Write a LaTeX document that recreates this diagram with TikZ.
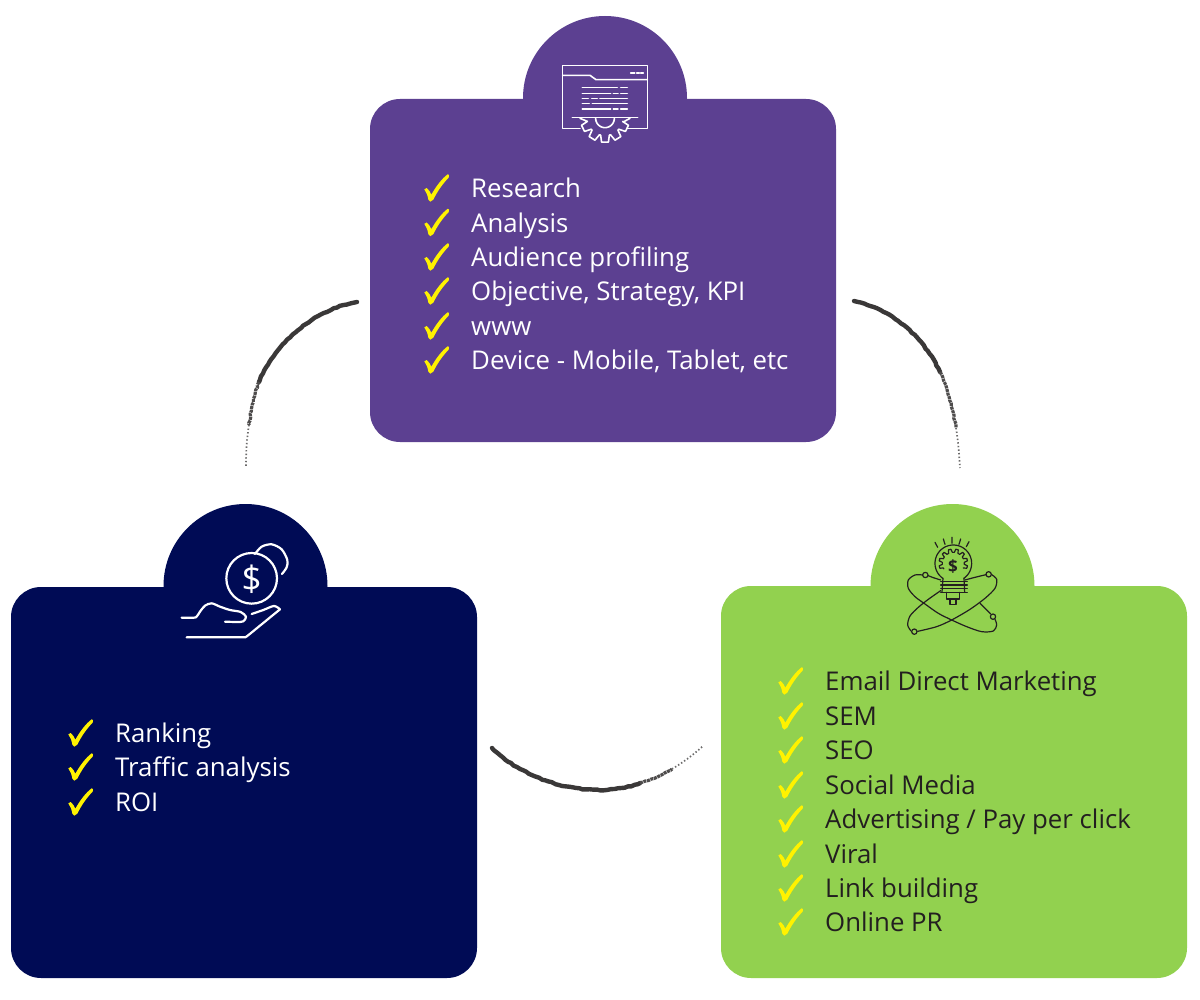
\documentclass[tikz,border=0pt]{standalone}
\usepackage{fontspec}
\usetikzlibrary{decorations.pathmorphing}
\setmainfont{Open Sans}
\definecolor{pur}{HTML}{5C4091}
\definecolor{nav}{HTML}{000B55}
\definecolor{grn}{HTML}{92D14F}
\definecolor{yel}{HTML}{FFF200}
\definecolor{ink}{HTML}{3A3838}
\definecolor{txtd}{HTML}{231F20}
\tikzset{
  panel/.style={rounded corners=30pt,minimum width=466pt,inner sep=0pt,outer sep=0pt,anchor=north west},
  tab/.style={circle,minimum size=164pt,inner sep=0pt,outer sep=0pt},
  lab/.style={anchor=base west,inner sep=0pt,yshift=-0.7pt,font=\fontsize{25.8}{30}\selectfont},
  iconw/.style={draw=white,line width=1.6pt,line cap=round,line join=round},
  iconm/.style={draw=white,line width=2.2pt,line cap=round,line join=round},
  iconk/.style={draw=txtd,line width=1.2pt,line cap=round,line join=round},
  brushmain/.style={draw=ink,line width=4.4pt,line cap=round,line join=round,
    decorate,decoration={random steps,segment length=3.5pt,amplitude=0.5pt}},
  brushdry/.style={draw=ink!90,line width=3.2pt,line join=round,dash pattern=on 3pt off 0.7pt,
    decorate,decoration={random steps,segment length=3pt,amplitude=0.6pt}},
  brushtail/.style={draw=ink!75,line width=1.7pt,dash pattern=on 1.4pt off 2.2pt},
  zoomed/.style={x=0.3333pt,y=-0.3333pt}
}
\newcommand{\chk}[5]{%
  \node[lab,text=#5] (#1) at (#2,#3) {#4};
  \fill[yel,shift={(#2,#3)},zoomed] (-140,-23) -- (-133,-27) .. controls (-126,-22) and (-122,-14) .. (-119,-7)
    .. controls (-106,-30) and (-88,-55) .. (-70,-68) -- (-66,-66) -- (-67,-58)
    .. controls (-85,-40) and (-102,-15) .. (-113,8) -- (-122,14) -- (-128,8)
    .. controls (-130,-5) and (-134,-14) .. (-140,-23) -- cycle;
}
\begin{document}
\begin{tikzpicture}[x=1pt,y=-1pt]
\useasboundingbox (0,0) rectangle (1200,1000);
% panels
\node[tab,fill=pur] (tabP) at (605,98) {};
\node[panel,fill=pur,minimum height=343pt] (boxP) at (370,99) {};
\node[tab,fill=nav] (tabN) at (245.5,586) {};
\node[panel,fill=nav,minimum height=391pt] (boxN) at (11,587) {};
\node[tab,fill=grn] (tabG) at (952.5,586) {};
\node[panel,fill=grn,minimum height=392pt] (boxG) at (721,586) {};
% purple list
\chk{p1}{471}{197}{Research}{white}
\chk{p2}{471}{231.5}{Analysis}{white}
\chk{p3}{471}{266}{Audience profiling}{white}
\chk{p4}{471}{300}{Objective, Strategy, KPI}{white}
\chk{p5}{471}{335}{www}{white}
\chk{p6}{471}{369}{Device - Mobile, Tablet, etc}{white}
% navy list
\chk{n1}{115}{742}{Ranking}{white}
\chk{n2}{115}{776}{Traffic analysis}{white}
\chk{n3}{115}{811}{ROI}{white}
% green list
\chk{g1}{825}{690}{Email Direct Marketing}{txtd}
\chk{g2}{825}{725}{SEM}{txtd}
\chk{g3}{825}{759}{SEO}{txtd}
\chk{g4}{825}{794}{Social Media}{txtd}
\chk{g5}{825}{828}{Advertising / Pay per click}{txtd}
\chk{g6}{825}{863}{Viral}{txtd}
\chk{g7}{825}{897}{Link building}{txtd}
\chk{g8}{825}{931}{Online PR}{txtd}
% document icon
\begin{scope}[shift={(540,50)},zoomed,iconw]
  \draw (120,235) -- (68,235) -- (68,47) -- (322,47) -- (322,235) -- (262,235);
  \draw (68,76) -- (150,76) -- (168,89) -- (322,89);
  \draw (272,69) -- (284,69) (290,69) -- (298,69) (302,69) -- (310,69);
  \draw (127,113) -- (232,113) (242,113) -- (262,113);
  \draw (127,130) -- (212,130) (220,130) -- (234,130) (242,130) -- (262,130);
  \draw (127,146) -- (145,146) (155,146) -- (172,146) (180,146) -- (262,146);
  \draw (127,161) -- (148,161) (157,161) -- (262,161);
  \draw (127,177) -- (212,177) (220,177) -- (234,177) (242,177) -- (262,177);
  \draw (97,203) -- (293,203);
  \draw plot[domain=0:180,samples=25] ({195+28*cos(\x)},{205+28*sin(\x)});
  \draw (270,205) -- (250,216)
    \foreach \a in {26,58,90,122,154}{
      -- ({195+54*cos(\a-14)},{203+54*sin(\a-14)})
      -- ({195+74*cos(\a-8)},{203+74*sin(\a-8)})
      -- ({195+74*cos(\a+8)},{203+74*sin(\a+8)})
      -- ({195+54*cos(\a+14)},{203+54*sin(\a+14)})
    } -- (120,205);
\end{scope}
% money icon
\begin{scope}[shift={(170,530)},zoomed,iconm]
  \node[draw=white,line width=2.2pt,circle,minimum size=152pt*0.3333,inner sep=0pt] (coin) at (245,145) {};
  \node[text=white,inner sep=0pt,font=\fontsize{35}{35}\selectfont] (dollar) at (245,147) {\$};
  \draw plot[smooth] coordinates {(255,72) (275,50) (305,43) (335,58) (352,90) (350,112) (336,132)};
  \draw plot[smooth] coordinates {(35,263) (60,263) (78,262) (90,245) (105,227) (125,220) (150,230) (180,240) (212,246) (228,260) (220,274) (200,276) (165,275)};
  \draw plot[smooth] coordinates {(245,252) (280,240) (312,228) (330,238)};
  \draw (330,238) -- (232,318) -- (226,322) -- (50,322);
\end{scope}
% bulb icon
\begin{scope}[shift={(895,530)},zoomed,iconk]
  \draw plot[domain=125:415,samples=50] ({175+55*cos(\x)},{100+55*sin(\x)});
  \draw (144,145) -- (141,186) (207,145) -- (209,186);
  \draw (137,155) -- (217,155) (137,165) -- (217,165) (137,176) -- (217,176) (137,187) -- (217,187);
  \draw (155,187) -- (155,207) -- (193,207) -- (193,187);
  \draw (165,207) -- (165,223) -- (183,223) -- (183,207);
  \draw (120,37) -- (128,52) (145,27) -- (150,43) (171,22) -- (171,40) (197,27) -- (192,43) (222,35) -- (214,50);
  \draw ({175+33*cos(150)},{100+33*sin(150)})
    \foreach \a in {165,195,225,255,285,315,345,375}{
      -- ({175+33*cos(\a-10)},{100+33*sin(\a-10)})
      -- ({175+43*cos(\a-5)},{100+43*sin(\a-5)})
      -- ({175+43*cos(\a+5)},{100+43*sin(\a+5)})
      -- ({175+33*cos(\a+10)},{100+33*sin(\a+10)})
    };
  \node[text=txtd,inner sep=0pt,font=\fontsize{17}{17}\bfseries\selectfont] (bulbd) at (174,109) {\$};
  \draw plot[smooth] coordinates {(137,150) (112,142) (100,137)};
  \draw plot[smooth] coordinates {(83,135) (60,135) (40,150) (40,175) (60,200) (90,222) (130,250) (170,270) (215,290) (260,305) (295,303) (305,285) (300,268)};
  \draw plot[smooth] coordinates {(287,252) (270,235) (255,220)};
  \draw plot[smooth] coordinates {(210,150) (240,142) (273,134)};
  \draw plot[smooth] coordinates {(290,134) (305,148) (300,175) (270,205) (225,238) (170,270) (125,290) (68,304)};
  \draw plot[smooth] coordinates {(48,303) (38,285) (45,258) (70,232) (100,208) (137,182)};
  \draw (91,135) circle[radius=8];
  \draw (281,133) circle[radius=8];
  \draw (294,260) circle[radius=8];
  \draw (58,305) circle[radius=8];
\end{scope}
% brush arcs
\coordinate (la) at (357,302);
\coordinate (lb) at (259,382);
\coordinate (lc) at (249,425);
\coordinate (ld) at (246,466);
\draw[brushmain] (la) .. controls (312,310) and (274,345) .. (lb);
\draw[brushdry] (lb) .. controls (254,395) and (251,410) .. (lc);
\draw[brushtail] (lc) .. controls (247,437) and (246,450) .. (ld);
\coordinate (ra) at (854,301);
\coordinate (rb) at (940,372);
\coordinate (rc) at (956,428);
\coordinate (rd) at (960,468);
\draw[brushmain] (ra) .. controls (895,310) and (925,340) .. (rb);
\draw[brushdry] (rb) .. controls (947,388) and (953,408) .. (rc);
\draw[brushtail] (rc) .. controls (958,440) and (959,452) .. (rd);
\coordinate (ba) at (492,748);
\coordinate (bb) at (640,783);
\coordinate (bc) at (672,769);
\coordinate (bd) at (703,746);
\draw[brushmain] (ba) .. controls (530,785) and (595,800) .. (bb);
\draw[brushdry] (bb) .. controls (650,780) and (662,775) .. (bc);
\draw[brushtail] (bc) .. controls (682,763) and (692,756) .. (bd);
\end{tikzpicture}
\end{document}
